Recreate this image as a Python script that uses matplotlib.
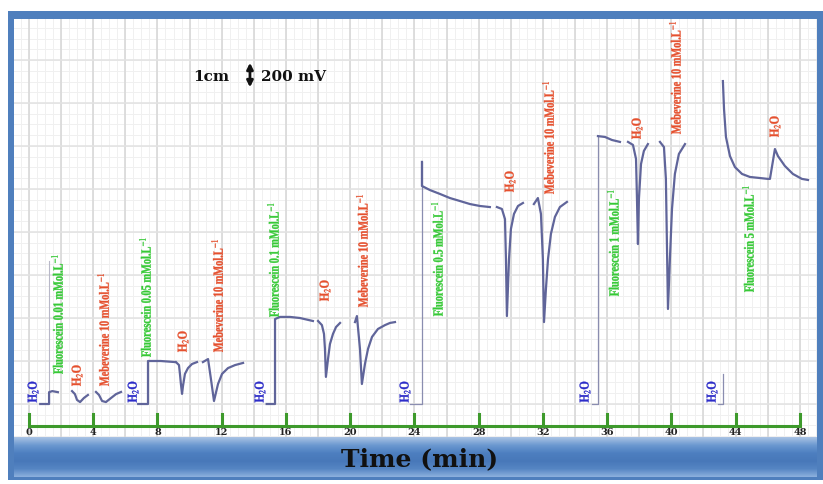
import numpy as np
import matplotlib
matplotlib.use("Agg")
import matplotlib.pyplot as plt
from matplotlib.patches import Rectangle, PathPatch
from matplotlib.textpath import TextPath
from matplotlib.font_manager import FontProperties
from matplotlib.transforms import Affine2D
from matplotlib.colors import LinearSegmentedColormap

plt.rcParams['mathtext.fontset'] = 'stix'

# ---------------- data (time in min, signal in mV) ----------------
time_ticks = [0, 4, 8, 12, 16, 20, 24, 28, 32, 36, 40, 44, 48]

# segment 1
s1_base_t = [0.7, 1.25, 1.25, 1.45, 1.8]
s1_base_v = [0, 0, 55, 60, 55]
s1_h2o_t = [2.68, 2.86, 2.99, 3.18, 3.42, 3.67]
s1_h2o_v = [60, 46, 19, 9, 28, 42]
s1_meb_t = [4.17, 4.36, 4.55, 4.79, 5.11, 5.42, 5.73]
s1_meb_v = [56, 42, 14, 9, 28, 46, 56]
# segment 2
s2_base_t = [6.8, 7.41, 7.41, 8.2, 9.1]
s2_base_v = [0, 0, 200, 200, 195]
s2_h2o_t = [9.15, 9.34, 9.40, 9.46, 9.53, 9.59, 9.71, 9.90, 10.15, 10.46]
s2_h2o_v = [195, 181, 140, 93, 47, 84, 140, 167, 186, 195]
s2_meb_t = [10.83, 11.15, 11.33, 11.52, 11.77, 12.02, 12.39, 12.83, 13.33]
s2_meb_v = [195, 209, 116, 14, 93, 140, 167, 181, 191]
# segment 3
s3_base_t = [14.8, 15.32, 15.32, 15.63, 16.25, 16.87, 17.68]
s3_base_v = [0, 0, 395, 405, 405, 400, 386]
s3_h2o_t = [18.0, 18.24, 18.37, 18.43, 18.49, 18.62, 18.74, 18.93, 19.12, 19.37]
s3_h2o_v = [386, 367, 326, 256, 126, 209, 279, 326, 358, 377]
s3_meb_t = [20.30, 20.42, 20.61, 20.73, 20.92, 21.11, 21.36, 21.73, 22.17, 22.48, 22.79]
s3_meb_v = [381, 409, 256, 93, 186, 256, 312, 349, 367, 377, 381]
# segment 4
s4_rise_t = [23.72, 24.47, 24.47]
s4_rise_v = [0, 0, 1126]
s4_base_t = [24.47, 24.47, 24.97, 25.59, 26.21, 26.84, 27.46, 28.08, 28.70]
s4_base_v = [1126, 1014, 995, 977, 958, 944, 930, 921, 916]
s4_h2o_t = [29.14, 29.45, 29.64, 29.70, 29.76, 29.89, 30.01, 30.20, 30.45, 30.76]
s4_h2o_v = [916, 907, 860, 674, 409, 674, 814, 884, 921, 935]
s4_meb_t = [31.44, 31.69, 31.88, 32.00, 32.07, 32.19, 32.32, 32.50, 32.75, 33.06, 33.50]
s4_meb_v = [930, 958, 884, 674, 381, 535, 674, 791, 870, 916, 940]
# segment 5
s5_rise_t = [35.06, 35.43, 35.43]
s5_rise_v = [0, 0, 1246]
s5_base_t = [35.43, 35.87, 36.30, 36.80]
s5_base_v = [1246, 1242, 1228, 1219]
s5_h2o_t = [37.30, 37.61, 37.80, 37.86, 37.92, 37.98, 38.11, 38.29, 38.54]
s5_h2o_v = [1219, 1205, 1140, 953, 744, 953, 1116, 1177, 1209]
s5_meb_t = [39.29, 39.54, 39.66, 39.73, 39.79, 39.91, 40.04, 40.22, 40.47, 40.85]
s5_meb_v = [1219, 1195, 1047, 721, 442, 674, 907, 1070, 1163, 1209]
# segment 6
s6_rise_t = [42.9, 43.21, 43.21]
s6_rise_v = [0, 0, 140]
s6_main_t = [43.21, 43.28, 43.40, 43.65, 43.96, 44.40, 44.89, 45.52, 46.01,
             46.14, 46.45, 46.64, 47.07, 47.57, 48.13, 48.51]
s6_main_v = [1502, 1372, 1242, 1153, 1102, 1070, 1056, 1051, 1047,
             1047, 1186, 1153, 1107, 1070, 1047, 1042]
# faint injection marker of segment 1
s1_mark_t = [1.25, 1.25]
s1_mark_v = [55, 665]

# labels
blue_h2o_t = [0.25, 6.48, 14.38, 23.41, 34.62, 42.53]
fluo_labels = ['Fluorescein 0.01 mMol.L$^{-1}$', 'Fluorescein 0.05 mMol.L$^{-1}$',
               'Fluorescein 0.1 mMol.L$^{-1}$', 'Fluorescein 0.5 mMol.L$^{-1}$',
               'Fluorescein 1 mMol.L$^{-1}$', 'Fluorescein 5 mMol.L$^{-1}$']
fluo_t = [1.74, 7.22, 15.19, 25.40, 36.36, 44.77]
fluo_v = [140, 219, 405, 409, 502, 521]
red_h2o_t = [2.99, 9.59, 18.43, 29.95, 37.86, 46.45]
red_h2o_v = [84, 242, 479, 986, 1233, 1242]
meb_label = 'Mebeverine 10 mMol.L$^{-1}$'
meb_t = [4.61, 11.71, 20.73, 32.32, 40.22]
meb_v = [84, 242, 451, 977, 1256]

# ---------------- figure ----------------
W, H = 823, 485
fig = plt.figure(figsize=(W / 100, H / 100), dpi=100)
fig.patch.set_facecolor('white')

def fr(x0, y0, x1, y1):
    return [x0 / W, 1 - y1 / H, (x1 - x0) / W, (y1 - y0) / H]

frame_blue = '#4f7fbd'
r = fr(8, 12, 823, 481)
fig.add_artist(Rectangle((r[0], r[1]), r[2], r[3], transform=fig.transFigure,
                         facecolor=frame_blue, edgecolor='none', zorder=0))

ax = fig.add_axes(fr(14, 20, 817, 438))
ax.set_xlim(-0.934, 49.07)
ax.set_ylim(-153.5, 1790.7)
ax.axis('off')
ax.add_patch(Rectangle((0, 0), 1, 1, transform=ax.transAxes, facecolor='white',
                       edgecolor='none', zorder=0))

# grid
for t in np.arange(-0.5, 49.5, 0.5):
    ax.axvline(t, color='#f0f0f0', lw=0.7, zorder=1)
for v in np.arange(-150, 1800, 50):
    ax.axhline(v, color='#f0f0f0', lw=0.7, zorder=1)
for t in range(0, 50, 2):
    ax.axvline(t, color='#d8d8d8', lw=1.2, zorder=1)
for v in range(0, 1800, 200):
    ax.axhline(v, color='#e2e2e2', lw=1.1, zorder=1)

# time axis
green = '#3e9a2c'
ax.plot([0, 48], [-102, -102], color=green, lw=2.2, zorder=3, solid_capstyle='butt')
for t in time_ticks:
    ax.plot([t, t], [-102, -47], color=green, lw=2.2, zorder=3)
    ax.text(t, -128, str(t), ha='center', va='center', fontsize=7,
            family='DejaVu Serif', weight='bold', color='#222222', zorder=4)

# traces
trace = '#60659a'
lw = 1.6
pieces = [(s1_base_t, s1_base_v), (s1_h2o_t, s1_h2o_v), (s1_meb_t, s1_meb_v),
          (s2_base_t, s2_base_v), (s2_h2o_t, s2_h2o_v), (s2_meb_t, s2_meb_v),
          (s3_base_t, s3_base_v), (s3_h2o_t, s3_h2o_v), (s3_meb_t, s3_meb_v),
          (s4_base_t, s4_base_v), (s4_h2o_t, s4_h2o_v), (s4_meb_t, s4_meb_v),
          (s5_base_t, s5_base_v), (s5_h2o_t, s5_h2o_v), (s5_meb_t, s5_meb_v),
          (s6_main_t, s6_main_v)]
for tt, vv in pieces:
    ax.plot(tt, vv, color=trace, lw=lw, zorder=5, solid_joinstyle='round')
for tt, vv in [(s4_rise_t, s4_rise_v), (s5_rise_t, s5_rise_v), (s6_rise_t, s6_rise_v)]:
    ax.plot(tt, vv, color='#8a8db0', lw=0.9, zorder=4)
ax.plot(s1_mark_t, s1_mark_v, color='#b8b8c8', lw=0.8, zorder=4)

# condensed, rotated labels drawn as text paths (bottom-to-top)
lab_prop = FontProperties(family='Liberation Serif', weight='bold')

def vlabel(t, v, s, color, size_px, squeeze):
    path = TextPath((0, 0), s, size=size_px, prop=lab_prop)
    ext = path.get_extents()
    x0, y0 = ax.transData.transform((t, v))
    tr = (Affine2D().translate(-ext.x0, -(ext.y0 + ext.y1) / 2)
          .scale(squeeze, 1.0).rotate_deg(90).translate(x0, y0))
    patch = PathPatch(tr.transform_path(path), facecolor=color, edgecolor=color,
                      lw=0.25, transform=None, zorder=6)
    fig.add_artist(patch)

fig.canvas.draw()
for t in blue_h2o_t:
    vlabel(t, 8, 'H$_2$O', '#2c2cc8', 13.5, 0.8)
for s, t, v in zip(fluo_labels, fluo_t, fluo_v):
    vlabel(t, v, s, '#36c936', 14.0, 0.74)
for t, v in zip(red_h2o_t, red_h2o_v):
    vlabel(t, v, 'H$_2$O', '#e5502e', 13.5, 0.8)
for t, v in zip(meb_t, meb_v):
    vlabel(t, v, meb_label, '#e5502e', 14.0, 0.74)

# scale annotation
ax.text(11.33, 1525, '1cm', ha='center', va='center', fontsize=11,
        family='DejaVu Serif', weight='bold', color='#111111', zorder=6)
ax.annotate('', xy=(13.76, 1600), xytext=(13.76, 1460),
            arrowprops=dict(arrowstyle='<|-|>', color='#111111', lw=2,
                            mutation_scale=9), zorder=6)
ax.text(14.45, 1525, '200 mV', ha='left', va='center', fontsize=11,
        family='DejaVu Serif', weight='bold', color='#111111', zorder=6)

# bottom band with gradient
bax = fig.add_axes(fr(14, 438, 817, 478))
bax.axis('off')
cmap = LinearSegmentedColormap.from_list('band', ['#a9c3e4', '#6b98d0', '#4d7fc0',
                                                  '#4878b9', '#5585c3', '#8cb0dd'])
grad = np.linspace(0, 1, 64).reshape(-1, 1)
bax.imshow(grad, aspect='auto', cmap=cmap, extent=[0, 1, 0, 1], origin='upper')
bax.set_xlim(0, 1)
bax.set_ylim(0, 1)
fig.text(420 / W, 1 - 459 / H, 'Time (min)', ha='center', va='center',
         fontsize=18, family='DejaVu Serif', weight='bold', color='#111111')

fig.savefig('out.png', dpi=100, facecolor='white')
